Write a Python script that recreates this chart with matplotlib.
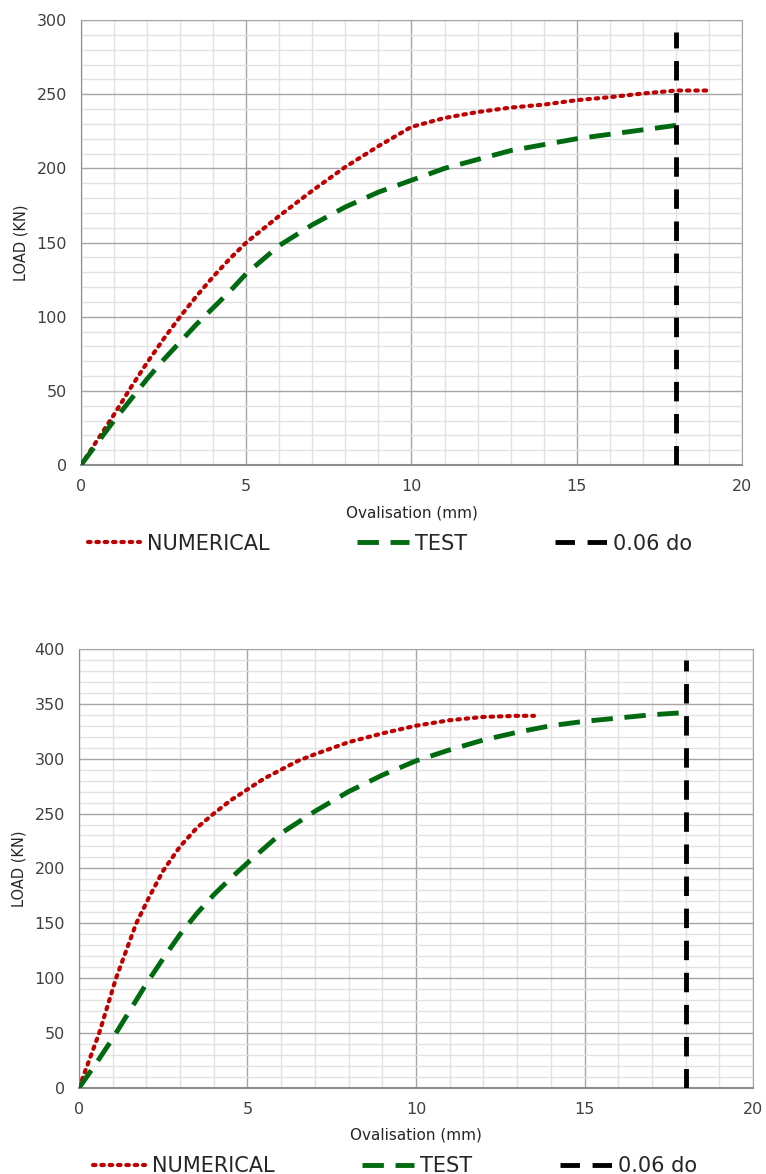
import numpy as np
import matplotlib
matplotlib.use("Agg")
import matplotlib.pyplot as plt
from matplotlib.ticker import MultipleLocator

plt.rcParams['font.family'] = ['Liberation Sans Narrow', 'DejaVu Sans']

# top chart: load vs ovalisation
num1_x = [0, 0.5, 1, 1.5, 2, 2.5, 3, 3.5, 4, 4.5, 5, 6, 7, 8, 9, 10, 11, 12, 13, 14, 15, 16, 17, 18, 19]
num1_y = [0, 17, 34, 52, 69, 85, 100, 114, 127, 139, 150, 168, 185, 201, 215, 228, 234, 238, 241, 243, 246, 248, 250.5, 252.5, 252.5]
test1_x = [0, 0.5, 1, 1.5, 2, 2.5, 3, 3.5, 4, 4.5, 5, 6, 7, 8, 9, 10, 11, 12, 13, 14, 15, 16, 17, 18]
test1_y = [0, 15, 30, 44, 58, 71, 83, 95, 106, 117, 129, 148, 162, 174, 184, 192, 200, 206, 212, 216, 220, 223, 226, 229]
limit1_x = [18, 18]
limit1_y = [0, 292]

# bottom chart
num2_x = [0, 0.3, 0.6, 0.85, 1.1, 1.4, 1.7, 2.1, 2.5, 3, 3.5, 4, 4.5, 5, 5.5, 6, 6.5, 7, 8, 9, 10, 11, 12, 13, 13.5]
num2_y = [0, 25, 50, 75, 100, 125, 150, 175, 198, 220, 237, 250, 262, 272, 282, 290, 298, 304, 315, 323, 330, 335, 338, 339, 339]
test2_x = [0, 0.5, 1, 1.5, 2, 2.5, 3, 3.5, 4, 4.5, 5, 6, 7, 8, 9, 10, 11, 12, 13, 14, 15, 16, 17, 18]
test2_y = [0, 22, 45, 70, 95, 118, 140, 159, 176, 191, 205, 232, 252, 270, 285, 298, 308, 317, 324, 330, 334, 337, 340, 342]
limit2_x = [18, 18]
limit2_y = [0, 390]

labels = ["NUMERICAL", "TEST", "0.06 do"]

fig = plt.figure(figsize=(7.66, 11.74), dpi=100)
ax1 = fig.add_axes([0.1057, 0.6039, 0.863, 0.379])
ax2 = fig.add_axes([0.1031, 0.0733, 0.880, 0.374])


def draw(ax, nx, ny, tx, ty, lx, ly, ymax, legx):
    ax.plot(nx, ny, color='#c00000', lw=3, linestyle=(0, (0.6, 1.4)),
            dash_capstyle='round', label=labels[0], zorder=4)
    ax.plot(tx, ty, color='#006a10', lw=3.5, linestyle=(0, (4.4, 2.4)),
            label=labels[1], zorder=4)
    ax.plot(lx, ly, color='black', lw=3.5, linestyle=(0, (4, 2.6)),
            label=labels[2], zorder=5)
    ax.set_xlim(0, 20)
    ax.set_ylim(0, ymax)
    ax.xaxis.set_major_locator(MultipleLocator(5))
    ax.xaxis.set_minor_locator(MultipleLocator(1))
    ax.yaxis.set_major_locator(MultipleLocator(50))
    ax.yaxis.set_minor_locator(MultipleLocator(10))
    ax.grid(which='major', color='#a6a6a6', lw=1.0, zorder=1)
    ax.grid(which='minor', color='#e2e2e2', lw=1.0, zorder=0)
    ax.tick_params(which='both', length=0, labelsize=11.5, colors='#404040', pad=10)
    for s in ax.spines.values():
        s.set_color('#a6a6a6')
    ax.spines['bottom'].set_color('#8c8c8c')
    ax.spines['bottom'].set_linewidth(1.5)
    ax.spines['left'].set_color('#8c8c8c')
    ax.set_xlabel('Ovalisation (mm)', fontsize=11, color='#262626', labelpad=8)
    ax.set_ylabel('LOAD (KN)', fontsize=10.5, color='#262626', labelpad=6)
    ax.legend(loc='upper center', bbox_to_anchor=(legx, -0.112), ncol=3,
              frameon=False, fontsize=15, handlelength=2.5, handletextpad=0.3,
              columnspacing=4.2, labelcolor='#262626')


draw(ax1, num1_x, num1_y, test1_x, test1_y, limit1_x, limit1_y, 300, 0.468)
draw(ax2, num2_x, num2_y, test2_x, test2_y, limit2_x, limit2_y, 400, 0.469)

fig.savefig('out.png', dpi=100)
